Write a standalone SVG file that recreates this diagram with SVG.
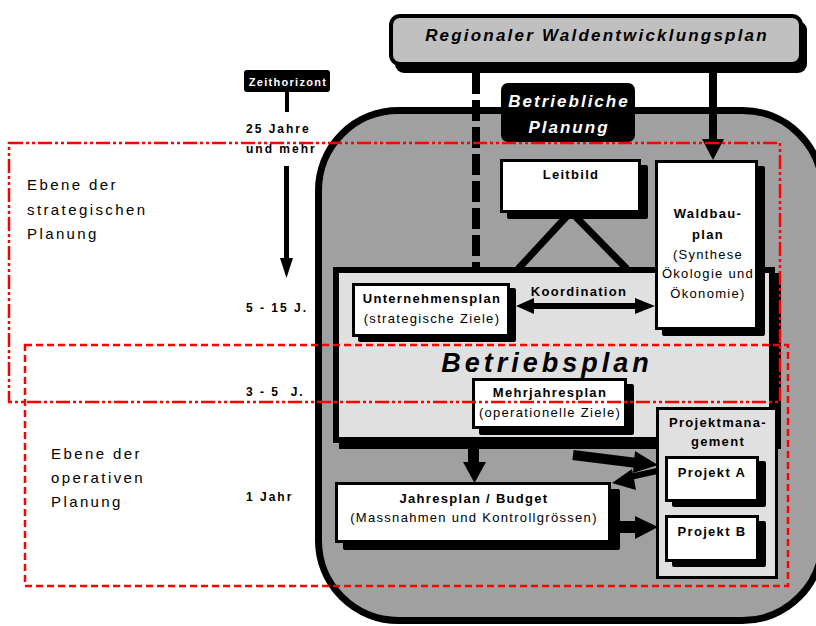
<svg xmlns="http://www.w3.org/2000/svg" width="816" height="626" viewBox="0 0 816 626">
<defs>
<style>
text{font-family:"Liberation Sans",Arial,Helvetica,sans-serif;fill:#000}
.b{font-weight:bold;font-size:13px;letter-spacing:1.3px;text-anchor:middle}
.r{font-size:13px;letter-spacing:1.3px;text-anchor:middle}
.t{font-weight:bold;font-size:12px;letter-spacing:2px}
.lv{font-size:15px;letter-spacing:2.4px}
.box{fill:#fff;stroke:#000;stroke-width:3}
.sh{fill:#000}
.red1{fill:none;stroke:#f00;stroke-width:2.5;stroke-dasharray:14 3 3 3 3 3}
.red2{fill:none;stroke:#f00;stroke-width:2.5;stroke-dasharray:7 4}
</style>
</defs>
<rect width="816" height="626" fill="#fff"/>

<g id="container-betriebliche-planung">
<rect x="318.5" y="110.5" width="504" height="510" rx="80" fill="#a0a0a0" stroke="#000" stroke-width="7"/>
</g>

<g id="regional">
<rect x="395" y="21" width="412" height="52" rx="9" class="sh"/>
<rect x="391" y="16" width="410" height="48" rx="9" fill="#c0c0c0" stroke="#000" stroke-width="4"/>
<text x="597" y="41" text-anchor="middle" font-size="17" font-weight="bold" font-style="italic" letter-spacing="2.2">Regionaler Waldentwicklungsplan</text>
</g>

<g id="betriebliche-planung-label">
<rect x="501" y="83" width="134" height="59" rx="7" fill="#000"/>
<text x="569" y="107" text-anchor="middle" font-size="17" font-weight="bold" font-style="italic" letter-spacing="2" style="fill:#fff">Betriebliche</text>
<text x="569" y="133" text-anchor="middle" font-size="17" font-weight="bold" font-style="italic" letter-spacing="2" style="fill:#fff">Planung</text>
</g>

<g id="zeithorizont">
<rect x="244" y="70" width="86" height="22" rx="3" fill="#000"/>
<text x="288" y="86" text-anchor="middle" font-size="11" font-weight="bold" letter-spacing="1.3" style="fill:#fff">Zeithorizont</text>
<rect x="285" y="92" width="4" height="20" fill="#000"/>
<text class="t" x="246" y="133">25 Jahre</text>
<text class="t" x="246" y="153">und mehr</text>
<rect x="284" y="166" width="5" height="93" fill="#000"/>
<polygon points="280,258 293,258 286.5,278" fill="#000"/>
<text class="t" x="246" y="312">5 - 15 J.</text>
<text class="t" x="246" y="396" xml:space="preserve">3 - 5  J.</text>
<text class="t" x="246" y="501">1 Jahr</text>
</g>

<g id="ebene-labels">
<text class="lv" x="27" y="190">Ebene der</text>
<text class="lv" x="27" y="215">strategischen</text>
<text class="lv" x="27" y="239">Planung</text>
<text class="lv" x="51" y="459">Ebene der</text>
<text class="lv" x="51" y="483">operativen</text>
<text class="lv" x="51" y="507">Planung</text>
</g>

<g id="betriebsplan">
<rect x="339" y="273" width="442" height="176" class="sh"/>
<rect x="336" y="270" width="436" height="170" fill="#e0e0e0" stroke="#000" stroke-width="6"/>
<text x="547" y="372" text-anchor="middle" font-size="27" font-weight="bold" font-style="italic" letter-spacing="4">Betriebsplan</text>
</g>

<g id="leitbild">
<rect x="507" y="165" width="141" height="54" rx="2" class="sh"/>
<rect x="501.5" y="160.5" width="138" height="51" class="box"/>
<text class="b" x="571" y="179">Leitbild</text>
</g>

<g id="waldbauplan">
<rect x="662" y="166" width="103" height="170" rx="2" class="sh"/>
<rect x="656.5" y="161.5" width="100" height="167" class="box"/>
<text class="b" x="708" y="218">Waldbau-</text>
<text class="b" x="708" y="239">plan</text>
<text class="r" x="708" y="259">(Synthese</text>
<text class="r" x="708" y="278">Ökologie und</text>
<text class="r" x="708" y="298">Ökonomie)</text>
</g>

<g id="unternehmensplan">
<rect x="358" y="288" width="158" height="54" rx="2" class="sh"/>
<rect x="353.5" y="284.5" width="155" height="51" class="box"/>
<text class="b" x="432" y="303">Unternehmensplan</text>
<text class="r" x="432" y="323">(strategische Ziele)</text>
</g>

<g id="mehrjahresplan">
<rect x="479" y="384" width="155" height="51" rx="2" class="sh"/>
<rect x="473.5" y="379.5" width="152" height="48" class="box"/>
<text class="b" x="550" y="397">Mehrjahresplan</text>
<text class="r" x="550" y="417">(operationelle Ziele)</text>
</g>

<g id="jahresplan">
<rect x="343" y="489" width="277" height="61" rx="2" class="sh"/>
<rect x="336.5" y="483.5" width="273" height="58" class="box"/>
<text class="b" x="474" y="503">Jahresplan / Budget</text>
<text class="r" x="474" y="522">(Massnahmen und Kontrollgrössen)</text>
</g>

<g id="projektmanagement">
<rect x="657.5" y="408.5" width="119" height="169" fill="#e0e0e0" stroke="#000" stroke-width="3"/>
<text class="b" x="718" y="427">Projektmana-</text>
<text class="b" x="718" y="446">gement</text>
</g>

<g id="projekt-a">
<rect x="672" y="461" width="94" height="46" rx="2" class="sh"/>
<rect x="666.5" y="457.5" width="91" height="43" class="box"/>
<text class="b" x="712" y="477">Projekt A</text>
</g>

<g id="projekt-b">
<rect x="672" y="521" width="94" height="46" rx="2" class="sh"/>
<rect x="666.5" y="516.5" width="91" height="44" class="box"/>
<text class="b" x="712" y="536">Projekt B</text>
</g>

<g id="connectors" fill="#000" stroke="none">
<line x1="476" y1="73" x2="476" y2="268" stroke="#000" stroke-width="8" stroke-dasharray="21 6"/>
<rect x="709" y="73" width="8" height="68"/>
<polygon points="702,139 724,139 713,160"/>
<line x1="568" y1="215" x2="518" y2="269" stroke="#000" stroke-width="7"/>
<line x1="574" y1="215" x2="627" y2="269" stroke="#000" stroke-width="7"/>
<rect x="532" y="303" width="105" height="6"/>
<polygon points="534,298 534,314 516,306"/>
<polygon points="635,298 635,314 655,306"/>
<text class="b" x="579" y="296">Koordination</text>
<rect x="468" y="449" width="11" height="14"/>
<polygon points="463,462 486,462 474.5,483"/>
<line x1="573" y1="455" x2="637" y2="463" stroke="#000" stroke-width="10"/>
<polygon points="635,451 633,473 658,465"/>
<line x1="657" y1="471" x2="630" y2="477" stroke="#000" stroke-width="6"/>
<polygon points="632,469 636,490 612,483"/>
<rect x="620" y="521" width="17" height="12"/>
<polygon points="635,516 635,539 658,527"/>
</g>

<g id="ebenen-rahmen">
<rect x="9" y="143" width="771" height="259" class="red1"/>
<rect x="25" y="345" width="763" height="241" class="red2"/>
</g>
</svg>
